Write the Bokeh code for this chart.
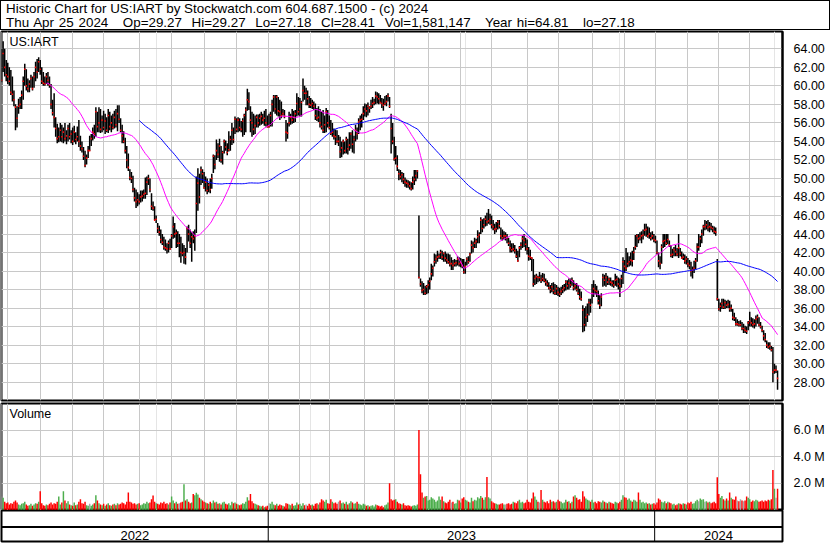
import numpy as np
import pandas as pd
from bokeh.plotting import figure
from bokeh.layouts import column
from bokeh.models import (Range1d, Label, Span, FixedTicker, SingleIntervalTicker, Div,
                          NumeralTickFormatter, PrintfTickFormatter, ColumnDataSource, Grid)
from bokeh.embed import file_html
from bokeh.resources import INLINE
from bokeh.core.properties import value

# ---------------- data ----------------
symbol = "US:IART"
header_line1 = "Historic Chart for US:IART by Stockwatch.com 604.687.1500 - (c) 2024"
header_line2 = ("Thu Apr 25 2024   Op=29.27  Hi=29.27  Lo=27.18  Cl=28.41  "
                "Vol=1,581,147   Year hi=64.81   lo=27.18")
first_day = "2022-04-26"
last_day = "2024-04-25"
market_holidays = ["2022-05-30", "2022-06-20", "2022-07-04", "2022-09-05", "2022-11-24",
                   "2022-12-26", "2023-01-02", "2023-01-16", "2023-02-20", "2023-04-07",
                   "2023-05-29", "2023-06-19", "2023-07-04", "2023-09-04", "2023-11-23",
                   "2023-12-25", "2024-01-01", "2024-01-15", "2024-02-19", "2024-03-29"]

highs = [
    64.0, 64.81, 64.0, 62.8, 62.5, 62.0, 61.7, 61.0, 59.5, 58.0,
    57.8, 58.6, 58.8, 59.5, 61.0, 62.4, 61.8, 60.8, 60.6, 61.2,
    61.0, 61.5, 62.6, 62.9, 63.1, 62.8, 62.0, 61.5, 61.0, 61.4,
    61.5, 61.0, 60.2, 58.5, 59.2, 56.6, 55.9, 55.5, 56.0, 55.8,
    55.5, 56.0, 55.2, 55.8, 56.0, 55.2, 55.5, 55.7, 55.0, 55.6,
    56.3, 54.6, 54.0, 53.4, 53.0, 52.6, 53.5, 54.6, 54.8, 55.5,
    55.8, 57.7, 57.2, 57.7, 57.5, 56.8, 57.3, 57.0, 56.6, 57.5,
    57.2, 56.8, 57.0, 57.3, 57.5, 57.9, 57.9, 56.5, 55.8, 55.1,
    54.4, 53.5, 52.7, 51.0, 50.7, 50.3, 49.0, 48.8, 48.5, 48.3,
    48.7, 48.7, 48.8, 50.1, 50.2, 50.4, 50.0, 48.4, 47.5, 47.0,
    46.0, 45.2, 44.9, 44.5, 44.0, 43.7, 43.4, 43.0, 43.3, 43.5,
    44.0, 45.9, 45.2, 44.5, 44.3, 44.0, 43.7, 43.0, 42.8, 42.5,
    44.8, 45.0, 44.5, 44.2, 44.3, 44.5, 50.2, 51.1, 50.5, 51.3,
    51.0, 50.7, 50.2, 50.0, 49.5, 50.0, 50.5, 52.6, 52.5, 54.2,
    53.8, 54.3, 53.5, 53.0, 54.2, 54.1, 53.8, 55.1, 54.6, 56.0,
    55.5, 56.7, 56.5, 56.6, 56.5, 56.2, 56.5, 57.0, 57.7, 59.7,
    59.3, 57.8, 57.2, 57.0, 56.8, 56.9, 56.9, 57.0, 57.2, 57.0,
    57.3, 57.5, 56.8, 57.0, 57.2, 58.5, 59.0, 59.0, 59.0, 58.8,
    58.5, 58.3, 57.5, 57.4, 56.3, 56.0, 57.2, 57.0, 57.5, 57.3,
    57.4, 59.2, 58.8, 58.7, 58.4, 60.8, 60.0, 59.8, 59.5, 58.9,
    58.7, 58.5, 58.3, 58.1, 57.6, 57.8, 57.5, 57.2, 57.4, 56.8,
    57.6, 57.4, 56.8, 56.3, 56.0, 55.4, 55.3, 55.2, 54.7, 54.5,
    54.0, 54.2, 54.0, 54.5, 54.3, 55.0, 55.0, 55.2, 54.6, 55.8,
    55.5, 56.5, 56.8, 57.0, 57.8, 58.1, 58.0, 58.2, 57.8, 58.5,
    58.8, 58.6, 59.4, 59.3, 59.2, 59.0, 58.7, 58.6, 58.9, 59.0,
    59.2, 58.8, 57.0, 56.0, 54.5, 53.5, 52.5, 51.0, 50.9, 50.7,
    50.6, 50.1, 49.9, 49.8, 49.7, 49.6, 50.2, 50.9, 50.9, 50.9,
    46.0, 39.2, 38.9, 38.7, 38.4, 38.5, 39.0, 39.3, 40.8, 40.6,
    41.9, 41.8, 42.2, 41.9, 42.3, 42.2, 42.0, 42.1, 41.9, 41.9,
    41.8, 41.5, 41.2, 41.3, 41.2, 41.6, 41.5, 41.4, 41.3, 41.3,
    41.0, 41.5, 41.6, 42.0, 43.3, 43.2, 43.6, 43.5, 44.4, 44.2,
    45.8, 45.6, 45.7, 46.0, 46.3, 46.7, 46.2, 46.0, 45.5, 45.1,
    45.3, 45.5, 45.5, 44.7, 44.5, 44.3, 44.2, 44.0, 43.6, 43.3,
    43.0, 43.0, 42.8, 42.4, 42.2, 42.7, 43.1, 43.8, 44.0, 43.6,
    43.4, 42.6, 42.3, 41.5, 41.3, 39.6, 39.7, 39.5, 39.9, 39.6,
    39.8, 39.7, 39.2, 39.0, 38.8, 38.5, 38.7, 38.8, 38.6, 38.5,
    38.3, 38.2, 38.3, 38.5, 38.6, 39.0, 39.0, 39.2, 39.2, 39.3,
    39.0, 38.7, 38.7, 38.5, 38.1, 37.8, 36.3, 36.0, 36.2, 36.5,
    37.0, 37.0, 38.6, 39.0, 38.6, 38.4, 37.9, 37.4, 37.6, 39.7,
    39.6, 39.8, 39.5, 39.3, 39.3, 39.0, 39.0, 39.7, 39.5, 39.3,
    39.2, 39.6, 41.5, 41.2, 42.5, 42.0, 41.6, 42.0, 42.2, 42.6,
    43.9, 44.0, 44.0, 44.2, 44.3, 44.5, 45.1, 45.1, 44.8, 44.7,
    44.2, 44.3, 44.0, 43.8, 43.3, 42.0, 41.6, 42.9, 44.0, 44.0,
    44.0, 44.0, 43.3, 42.8, 42.4, 42.6, 42.8, 42.5, 44.0, 42.5,
    42.1, 41.9, 41.8, 41.6, 41.4, 41.2, 41.0, 40.5, 41.1, 41.4,
    43.0, 44.0, 43.8, 44.5, 45.0, 45.5, 45.4, 45.5, 45.3, 45.2,
    44.9, 44.8, 44.7, 41.3, 37.0, 36.6, 37.0, 37.0, 36.9, 36.8,
    36.9, 36.8, 36.4, 35.9, 35.5, 35.0, 34.8, 34.6, 34.7, 34.5,
    34.3, 34.1, 34.0, 34.6, 35.6, 35.0, 34.9, 34.8, 35.2, 35.3,
    35.0, 34.5, 34.1, 33.6, 33.3, 32.5, 32.3, 32.3, 31.9, 31.8,
    30.0, 29.8, 29.27,
]

lows = [
    60.4, 61.5, 61.0, 60.5, 60.2, 60.0, 59.0, 58.3, 57.8, 55.2,
    55.5, 57.0, 57.5, 57.5, 58.5, 60.0, 59.5, 59.3, 59.3, 59.8,
    59.5, 59.8, 60.5, 60.8, 61.5, 61.2, 60.2, 60.0, 60.0, 60.2,
    60.0, 59.8, 57.5, 56.8, 55.5, 54.5, 53.8, 53.9, 54.0, 53.9,
    53.8, 54.0, 53.7, 54.0, 54.2, 53.8, 53.6, 53.9, 53.7, 54.0,
    53.4, 53.0, 52.8, 52.0, 51.2, 51.5, 52.2, 53.0, 53.5, 54.1,
    54.3, 54.5, 55.0, 55.0, 54.9, 55.0, 55.2, 54.8, 55.0, 54.9,
    55.2, 55.0, 55.3, 55.4, 55.5, 55.1, 56.0, 55.0, 53.8, 53.8,
    52.7, 51.1, 50.8, 49.8, 49.5, 48.5, 47.5, 46.8, 47.0, 47.2,
    47.4, 47.5, 47.8, 47.8, 48.2, 49.3, 48.5, 46.6, 46.5, 45.5,
    45.2, 44.1, 43.8, 43.0, 42.8, 42.3, 42.2, 41.9, 42.0, 42.3,
    42.5, 43.5, 43.6, 42.5, 42.6, 41.5, 40.9, 41.6, 40.8, 40.7,
    42.0, 43.2, 42.5, 41.0, 43.0, 42.2, 44.1, 46.5, 47.3, 49.3,
    49.5, 48.9, 48.6, 48.3, 48.5, 48.4, 48.9, 50.6, 51.0, 52.0,
    52.2, 51.8, 51.7, 51.5, 52.7, 53.0, 52.5, 52.9, 53.0, 53.6,
    53.8, 54.8, 55.0, 55.0, 55.1, 55.0, 54.5, 54.7, 55.0, 57.3,
    57.4, 55.0, 54.5, 54.7, 54.8, 55.5, 55.5, 55.7, 55.8, 55.9,
    55.7, 55.6, 55.5, 55.5, 55.6, 55.6, 57.2, 57.0, 56.8, 56.7,
    56.3, 56.5, 56.8, 56.5, 54.0, 54.3, 55.6, 55.8, 55.9, 56.0,
    56.1, 56.7, 56.8, 56.7, 56.7, 58.3, 58.5, 57.9, 57.9, 57.6,
    57.6, 57.5, 57.4, 56.3, 56.2, 56.1, 55.5, 55.3, 54.9, 54.9,
    55.0, 55.5, 55.3, 54.7, 54.5, 54.2, 53.6, 53.8, 53.5, 52.2,
    52.3, 52.6, 52.7, 52.7, 52.6, 53.0, 53.2, 52.8, 52.7, 54.0,
    54.2, 54.8, 55.2, 55.5, 56.3, 56.7, 56.6, 56.8, 57.1, 57.5,
    57.6, 57.9, 58.0, 58.1, 58.0, 58.1, 57.6, 57.3, 57.9, 57.8,
    58.3, 57.6, 52.7, 53.7, 51.9, 51.5, 50.8, 49.8, 49.9, 49.6,
    49.4, 49.1, 49.0, 49.0, 48.8, 48.7, 48.8, 49.3, 49.7, 50.0,
    39.2, 38.3, 37.6, 37.4, 37.4, 37.5, 37.6, 38.0, 39.0, 39.4,
    40.5, 40.8, 41.0, 41.3, 41.3, 41.2, 41.0, 41.0, 40.8, 40.8,
    40.5, 40.1, 40.1, 40.5, 40.5, 40.6, 40.5, 40.4, 40.3, 39.7,
    39.7, 40.6, 40.8, 41.0, 41.9, 42.0, 42.5, 42.5, 43.0, 43.0,
    44.0, 44.2, 44.6, 44.8, 44.9, 45.1, 45.0, 44.6, 44.4, 44.0,
    44.2, 44.5, 44.6, 43.4, 43.3, 43.4, 43.3, 43.0, 42.7, 42.0,
    42.0, 42.1, 41.9, 41.4, 41.0, 41.5, 42.3, 42.5, 42.6, 42.2,
    41.8, 41.1, 41.2, 40.0, 38.3, 38.5, 38.6, 38.8, 38.9, 38.7,
    38.9, 38.8, 38.4, 38.3, 38.0, 37.6, 37.7, 37.5, 37.4, 37.4,
    37.3, 37.2, 37.4, 37.6, 37.8, 37.9, 38.0, 38.0, 38.2, 38.4,
    37.9, 38.0, 37.8, 37.4, 36.9, 36.8, 33.4, 33.5, 34.0, 34.5,
    35.2, 35.5, 36.5, 37.2, 37.5, 37.2, 36.4, 35.9, 36.2, 38.3,
    38.4, 38.3, 38.5, 38.5, 38.4, 38.3, 38.2, 38.4, 38.3, 38.0,
    37.2, 38.2, 38.6, 39.8, 40.0, 40.4, 40.5, 40.6, 40.5, 41.2,
    42.3, 42.6, 43.0, 43.3, 43.0, 43.4, 43.8, 43.7, 43.6, 43.5,
    43.3, 43.4, 43.1, 43.0, 41.8, 40.4, 40.2, 40.8, 42.5, 42.6,
    42.8, 42.9, 42.6, 41.5, 41.4, 41.6, 41.6, 41.6, 41.4, 41.6,
    41.3, 41.2, 40.8, 40.7, 40.4, 40.2, 39.4, 39.2, 39.8, 40.2,
    41.0, 42.2, 42.6, 43.0, 43.8, 44.4, 44.5, 44.3, 44.2, 44.4,
    44.2, 44.0, 43.8, 36.8, 35.7, 35.6, 35.9, 35.9, 35.9, 36.0,
    36.0, 35.6, 35.6, 34.7, 34.6, 34.1, 34.1, 34.0, 34.0, 33.6,
    33.3, 33.3, 33.2, 33.6, 34.0, 34.0, 33.9, 33.8, 34.0, 34.3,
    34.0, 33.8, 33.4, 32.5, 32.3, 31.7, 31.6, 31.5, 31.3, 28.0,
    28.9, 29.0, 27.18,
]

closes = [
    60.6, 63.5, 62.0, 61.2, 61.0, 60.5, 59.3, 59.1, 58.5, 57.7,
    56.5, 57.8, 58.0, 59.0, 60.5, 61.8, 60.0, 59.7, 60.2, 60.8,
    59.7, 61.0, 62.0, 61.5, 62.6, 61.8, 60.5, 60.3, 60.2, 61.0,
    60.6, 60.1, 58.0, 57.1, 56.6, 55.4, 54.3, 54.5, 55.2, 54.5,
    55.0, 54.3, 54.6, 55.4, 54.5, 54.8, 54.0, 55.0, 54.2, 54.5,
    54.0, 53.5, 53.2, 52.4, 51.4, 52.2, 53.0, 53.0, 54.3, 55.0,
    54.8, 57.2, 55.6, 56.0, 55.3, 56.3, 55.5, 56.2, 55.2, 56.8,
    55.6, 56.0, 55.5, 56.6, 55.8, 57.0, 56.4, 55.2, 54.6, 54.0,
    53.0, 52.0, 51.2, 50.1, 50.0, 48.8, 47.9, 47.5, 47.7, 47.5,
    48.0, 48.1, 48.3, 48.4, 49.6, 50.0, 48.8, 47.0, 46.8, 45.5,
    45.6, 44.6, 44.2, 43.4, 43.1, 42.6, 42.5, 42.4, 43.0, 42.4,
    43.8, 44.8, 44.0, 44.1, 43.0, 43.0, 42.0, 41.9, 42.0, 41.5,
    44.6, 44.0, 43.0, 43.7, 43.5, 43.8, 47.3, 49.5, 48.0, 50.9,
    50.5, 49.0, 49.6, 48.7, 49.3, 48.8, 50.0, 52.4, 51.5, 53.0,
    52.6, 53.5, 52.0, 52.8, 54.0, 53.4, 52.8, 53.1, 54.2, 55.2,
    54.2, 56.4, 55.3, 56.3, 55.5, 55.3, 56.2, 56.8, 57.4, 58.5,
    58.3, 56.3, 56.0, 55.3, 55.7, 56.6, 56.0, 56.5, 56.7, 56.3,
    56.5, 56.0, 55.6, 55.6, 56.8, 58.0, 58.8, 57.5, 58.8, 57.3,
    57.2, 56.8, 57.0, 56.7, 55.0, 54.9, 56.0, 56.6, 56.3, 56.6,
    57.0, 58.1, 57.2, 57.5, 58.2, 59.5, 59.2, 59.2, 58.6, 58.0,
    57.9, 58.1, 57.8, 56.8, 56.5, 56.6, 56.0, 55.6, 55.2, 55.8,
    57.2, 56.0, 55.5, 54.9, 55.0, 54.6, 54.5, 54.0, 54.0, 52.9,
    53.3, 54.0, 53.0, 54.2, 53.2, 53.6, 54.8, 53.7, 54.2, 55.2,
    54.8, 56.1, 56.3, 56.4, 57.0, 57.5, 57.3, 57.8, 57.6, 57.8,
    58.1, 58.2, 58.9, 58.8, 58.6, 58.2, 58.1, 57.9, 58.1, 58.3,
    58.9, 57.8, 55.4, 54.0, 52.1, 52.2, 51.3, 50.5, 50.2, 50.4,
    49.9, 49.6, 49.5, 49.4, 49.2, 48.9, 49.6, 49.9, 50.3, 50.8,
    39.3, 38.6, 37.9, 38.0, 37.6, 38.3, 38.5, 38.9, 39.7, 40.3,
    41.0, 41.3, 41.5, 41.6, 42.0, 41.5, 41.9, 41.4, 41.2, 41.0,
    40.8, 40.8, 40.6, 40.8, 40.9, 41.3, 40.8, 40.9, 40.6, 39.9,
    40.5, 41.3, 41.0, 41.8, 42.8, 42.5, 43.0, 43.2, 43.7, 43.9,
    45.5, 44.6, 45.0, 45.6, 45.3, 45.4, 45.6, 45.0, 44.8, 44.5,
    44.6, 45.3, 44.9, 43.8, 43.6, 43.8, 43.8, 43.6, 43.0, 42.5,
    42.3, 42.4, 42.2, 41.6, 41.1, 42.5, 42.8, 43.5, 43.3, 42.9,
    42.4, 41.6, 41.5, 41.4, 38.6, 39.2, 39.4, 39.3, 39.3, 39.0,
    39.2, 39.0, 38.8, 38.6, 38.2, 38.0, 38.3, 37.9, 37.6, 38.1,
    37.7, 37.5, 37.8, 38.0, 38.2, 38.8, 38.4, 38.7, 38.5, 39.0,
    38.2, 38.4, 38.0, 37.6, 37.2, 37.0, 35.8, 34.2, 35.0, 35.3,
    36.6, 36.3, 37.6, 38.1, 37.9, 37.8, 36.8, 36.3, 37.2, 39.3,
    39.0, 39.3, 38.8, 39.1, 38.8, 38.7, 38.5, 39.0, 39.1, 38.6,
    38.4, 39.2, 41.0, 40.5, 40.3, 40.8, 41.0, 41.2, 41.1, 42.0,
    42.6, 43.8, 43.5, 43.6, 43.8, 43.9, 44.4, 44.5, 43.8, 44.0,
    43.6, 43.8, 43.4, 43.3, 42.0, 41.1, 40.8, 42.6, 43.2, 43.3,
    43.0, 43.4, 42.8, 41.7, 41.8, 42.3, 42.1, 41.8, 42.5, 41.9,
    41.4, 41.5, 41.1, 41.3, 40.8, 40.6, 40.0, 40.1, 40.3, 41.1,
    42.6, 42.6, 43.5, 44.0, 44.8, 44.8, 45.0, 44.7, 44.8, 44.7,
    44.6, 44.3, 44.2, 37.0, 35.9, 36.2, 36.5, 36.1, 36.6, 36.3,
    36.4, 35.9, 36.0, 35.0, 34.9, 34.3, 34.3, 34.2, 34.2, 33.8,
    33.8, 33.6, 33.5, 34.4, 34.6, 34.4, 34.2, 34.3, 34.8, 35.0,
    34.2, 34.0, 33.6, 33.0, 32.6, 32.0, 31.8, 31.9, 31.5, 29.1,
    29.3, 29.3, 28.41,
]

volumes_m = [
    1.0, 0.9, 0.6, 0.5, 0.55, 0.4, 0.5, 0.45, 0.6, 0.7,
    0.55, 0.4, 0.35, 0.45, 0.5, 0.6, 0.4, 0.3, 0.35, 0.45,
    0.3, 0.4, 0.5, 0.45, 0.6, 1.4, 0.5, 0.35, 0.3, 0.4,
    0.35, 0.45, 0.55, 0.4, 0.5, 0.45, 0.6, 1.0, 0.4, 0.55,
    1.4, 0.7, 0.5, 0.65, 0.4, 0.35, 0.3, 0.55, 0.35, 0.4,
    0.6, 0.8, 0.5, 0.45, 0.6, 0.35, 0.3, 0.45, 0.3, 0.4,
    0.5, 1.1, 0.7, 0.5, 0.4, 0.35, 0.45, 0.3, 0.4, 0.5,
    0.35, 0.3, 0.4, 0.45, 0.35, 0.5, 0.4, 0.45, 0.55, 0.5,
    0.4, 0.6, 1.3, 0.6, 0.55, 0.45, 0.5, 0.4, 0.45, 0.5,
    0.35, 0.4, 0.5, 0.45, 0.6, 0.5, 0.55, 0.8, 1.07, 0.6,
    0.5, 0.45, 0.4, 0.55, 0.5, 0.6, 0.45, 0.5, 0.4, 0.55,
    1.0, 0.7, 0.5, 0.6, 0.45, 0.5, 0.55, 0.6, 1.93, 0.7,
    0.8, 0.6, 0.5, 0.55, 1.2, 1.1, 1.28, 1.15, 0.9, 0.8,
    0.7, 0.6, 0.55, 0.5, 0.45, 0.6, 0.5, 0.7, 0.55, 0.6,
    0.45, 0.5, 0.4, 0.55, 0.6, 0.45, 0.4, 0.5, 0.35, 0.6,
    0.5, 0.55, 0.45, 0.4, 0.35, 0.4, 0.5, 0.45, 0.6, 0.95,
    0.7, 1.2, 0.65, 0.5, 0.45, 0.4, 0.35, 0.3, 0.25, 0.3,
    0.2, 0.25, 0.3, 0.5, 0.45, 0.6, 0.4, 0.35, 0.45, 0.3,
    0.4, 0.35, 0.3, 0.25, 0.5, 0.45, 0.4, 0.35, 0.45, 0.3,
    0.35, 0.55, 0.4, 0.45, 0.3, 0.5, 0.35, 0.4, 0.3, 0.45,
    0.35, 0.4, 0.3, 0.45, 0.5, 0.4, 0.55, 0.8, 0.7, 0.6,
    0.75, 0.5, 0.45, 0.8, 0.6, 0.5, 0.55, 0.45, 0.6, 0.7,
    0.5, 0.55, 0.45, 0.6, 0.4, 0.5, 0.65, 0.55, 0.45, 0.5,
    0.6, 0.45, 0.4, 0.35, 0.45, 0.4, 0.3, 0.35, 0.25, 0.3,
    0.35, 0.25, 0.4, 0.35, 0.3, 0.25, 0.3, 0.2, 0.35, 0.4,
    0.55, 2.0, 0.8, 0.7, 0.75, 0.8, 0.6, 0.5, 0.45, 0.4,
    0.5, 0.35, 0.3, 0.35, 0.3, 0.25, 0.3, 0.35, 0.3, 0.4,
    6.0, 2.67, 1.3, 0.9, 1.0, 1.05, 0.7, 0.75, 0.95, 0.85,
    0.75, 0.6, 0.7, 1.0, 0.75, 1.0, 0.65, 0.55, 0.5, 0.6,
    0.75, 0.55, 0.6, 0.45, 0.5, 0.75, 0.7, 0.55, 0.85, 0.95,
    0.75, 0.7, 0.6, 0.55, 0.9, 0.65, 0.75, 0.7, 0.95, 0.85,
    1.05, 0.9, 0.75, 0.95, 2.47, 0.95, 0.85, 0.65, 0.55, 0.5,
    0.45, 0.4, 0.4, 0.45, 0.5, 0.4, 0.4, 0.45, 0.5, 0.4,
    0.45, 0.6, 0.55, 0.5, 0.65, 0.75, 0.55, 0.6, 0.5, 0.55,
    0.75, 0.6, 0.55, 0.85, 1.3, 1.0, 0.75, 0.6, 0.55, 1.5,
    0.75, 0.6, 0.55, 0.65, 0.5, 0.75, 0.6, 0.65, 0.55, 0.6,
    0.75, 0.65, 0.6, 0.5, 0.55, 0.75, 0.6, 0.65, 0.5, 0.6,
    1.0, 1.1, 0.9, 0.75, 0.8, 0.6, 1.4, 1.0, 0.85, 0.75,
    0.7, 0.6, 0.75, 0.55, 0.6, 0.5, 0.65, 0.6, 0.55, 0.7,
    0.6, 0.55, 0.5, 0.6, 0.55, 0.5, 0.45, 0.6, 0.55, 0.5,
    0.6, 0.75, 1.1, 0.95, 0.9, 0.75, 0.85, 0.7, 0.6, 0.75,
    0.7, 0.6, 1.3, 0.75, 0.55, 0.6, 0.5, 0.55, 0.45, 0.5,
    0.4, 0.45, 0.5, 0.4, 0.55, 0.85, 0.75, 0.6, 0.55, 0.65,
    0.5, 0.6, 0.55, 0.5, 0.4, 0.45, 0.35, 0.4, 0.5, 0.45,
    0.4, 0.5, 0.45, 0.4, 0.55, 0.5, 0.6, 0.45, 0.5, 0.65,
    0.75, 0.65, 0.85, 0.75, 0.8, 0.6, 0.65, 0.55, 0.6, 0.5,
    0.55, 0.6, 0.5, 2.45, 1.2, 0.9, 1.05, 0.8, 0.7, 0.85,
    0.7, 1.3, 0.9, 0.8, 0.75, 1.0, 0.7, 0.65, 0.8, 0.7,
    0.65, 0.7, 1.0, 0.9, 0.8, 0.6, 0.7, 0.65, 0.75, 0.7,
    0.6, 0.65, 0.7, 0.6, 0.7, 0.65, 0.75, 0.7, 0.8, 3.0,
    1.58, 0.9, 1.58,
]

price_tick_step = 2
volume_ticks = [2, 4, 6]
ma_short, ma_long = 30, 90
year_labels = ["2022", "2023", "2024"]

# ---------------- derived ----------------
N = len(closes)
assert len(highs) == N and len(lows) == N and len(volumes_m) == N

days = pd.bdate_range(first_day, last_day)
days = days[~days.isin(pd.to_datetime(market_holidays))]
if len(days) >= N:
    days = days[-N:]
else:
    extra = pd.bdate_range(end=days[0] - pd.Timedelta(days=1), periods=N - len(days))
    days = extra.append(days)

idx = np.arange(N)
month_starts = [int(i) for i in range(1, N) if days[i].month != days[i - 1].month]
year_starts = [int(i) for i in range(1, N) if days[i].year != days[i - 1].year]

cl = pd.Series(closes)
ma_s = cl.rolling(ma_short).mean()
ma_l = cl.rolling(ma_long).mean()

GREEN, RED, GRAY = "#4cae4c", "#ff0000", "#a8a8a8"
vol_colors = [GRAY]
for i in range(1, N):
    if closes[i] > closes[i - 1]:
        vol_colors.append(GREEN)
    elif closes[i] < closes[i - 1]:
        vol_colors.append(RED)
    else:
        vol_colors.append(GRAY)

src = ColumnDataSource(dict(x=idx, high=highs, low=lows, close=closes, vol=volumes_m,
                            color=vol_colors, mas=ma_s.values, mal=ma_l.values))

# ---------------- layout ----------------
W = 830
BL, BR = 1, 48
FONT = "Liberation Sans"
GRID = "#c8c8c8"
x_lo, x_hi = -0.05, N + 2.2


def base_fig(height, y_range, **kw):
    f = figure(width=W, height=height, x_range=Range1d(x_lo, x_hi), y_range=y_range,
               output_backend="svg", toolbar_location=None, min_border_left=BL,
               min_border_right=BR, **kw)
    f.background_fill_color = "white"
    f.border_fill_color = "white"
    f.outline_line_color = "black"
    f.outline_line_width = 2
    return f


# header
hdr = Div(text=('<div style="box-sizing:border-box;width:830px;height:30px;'
                'border:1px solid black;font-family:\'Liberation Sans\',Arial,sans-serif;'
                'font-size:13.4px;line-height:14px;padding:1px 0 0 5px;white-space:pre;'
                'color:black;background:white;overflow:hidden;">'
                f'{header_line1}<br><span style="word-spacing:1.1px;">{header_line2}</span></div>'),
          width=W, height=30, margin=0)

# price panel
p = base_fig(372, Range1d(26.02, 65.87), y_axis_location="right", x_axis_location=None,
             min_border_top=1, min_border_bottom=2)
p.add_layout(Grid(dimension=0, ticker=FixedTicker(ticks=month_starts), grid_line_color=GRID))
p.yaxis.ticker = SingleIntervalTicker(interval=price_tick_step, num_minor_ticks=0)
p.yaxis.formatter = NumeralTickFormatter(format="0.00")
p.ygrid.grid_line_color = GRID
p.segment(x0="x", y0="low", x1="x", y1="high", source=src, line_color="black", line_width=1.5)
p.rect(x="x", y="close", width=0.9, height=1.6, height_units="screen", source=src,
       fill_color="red", line_color=None)
p.line(x="x", y="mas", source=src, line_color="#ff00ff", line_width=1)
p.line(x="x", y="mal", source=src, line_color="#0000ff", line_width=1)
p.add_layout(Label(x=8, y=366, x_units="screen", y_units="screen", text=symbol, text_font=FONT,
                   text_font_size="12.5px", text_color="black", text_baseline="top"))

# volume panel
v = base_fig(108, Range1d(-0.05, 8.0), y_axis_location="right", x_axis_location=None,
             min_border_top=1, min_border_bottom=0)
v.add_layout(Grid(dimension=0, ticker=FixedTicker(ticks=month_starts), grid_line_color=GRID))
v.yaxis.ticker = FixedTicker(ticks=volume_ticks)
v.yaxis.formatter = PrintfTickFormatter(format="%.1f M")
v.ygrid.grid_line_color = GRID
v.vbar(x="x", top="vol", width=0.95, source=src, fill_color="color", line_color=None)
v.add_layout(Label(x=8, y=104, x_units="screen", y_units="screen", text="Volume", text_font=FONT,
                   text_font_size="12.5px", text_color="black", text_baseline="top"))

for f in (p, v):
    ax = f.yaxis[0]
    ax.axis_line_color = "black"
    ax.axis_line_width = 2
    ax.major_tick_line_color = None
    ax.minor_tick_line_color = None
    ax.major_label_standoff = 5
    ax.major_label_text_font = FONT
    ax.major_label_text_font_size = "12.5px"
    ax.major_label_text_color = "black"

# year strip
yr = base_fig(33, Range1d(31, 0), x_axis_location=None, y_axis_location=None,
              min_border_top=0, min_border_bottom=2)
yr.grid.visible = False
yr.add_layout(Span(location=16.5, dimension="width", line_color="black", line_width=2))
for b in year_starts:
    yr.add_layout(Span(location=b - 0.5, dimension="height", line_color="black", line_width=1))
bounds = [x_lo] + [b - 0.5 for b in year_starts] + [x_hi]
centers = [(bounds[k] + bounds[k + 1]) / 2 for k in range(len(bounds) - 1)]
yr.text(x=centers, y=[24.5] * len(centers), text=year_labels[:len(centers)], text_align="center",
        text_baseline="middle", text_font=value(FONT), text_font_size="13px", text_color="black")

layout = column(hdr, p, v, yr, spacing=0)
open("out.html", "w").write(file_html(layout, INLINE))
